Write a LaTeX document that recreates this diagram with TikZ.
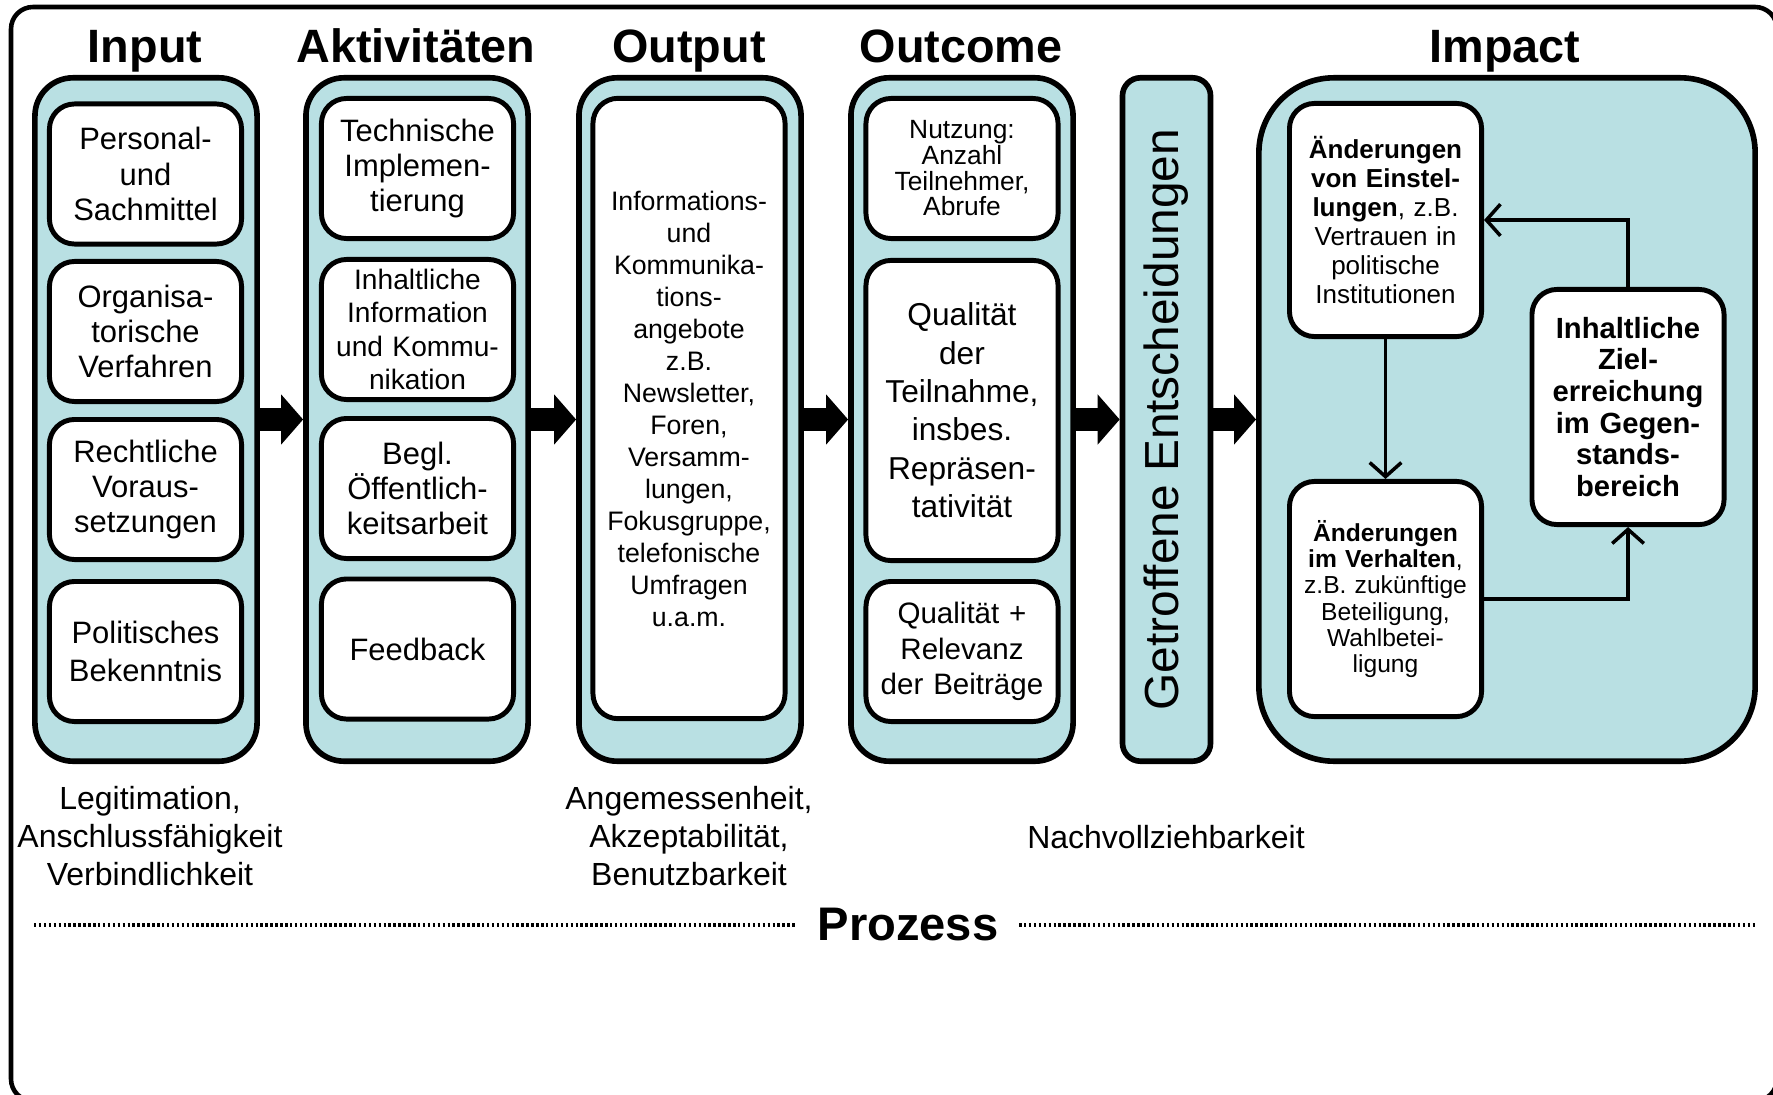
\documentclass[tikz,border=0pt]{standalone}
\usepackage{fontspec}
\setmainfont{Liberation Sans}
\usetikzlibrary{arrows.meta}
\definecolor{boxblue}{RGB}{185,224,227}

\begin{document}
\begin{tikzpicture}[x=0.01cm,y=-0.01cm,
        colbox/.style={draw,line width=1.6pt,fill=boxblue,rounded corners=0.38cm,
                minimum width=2.22cm,minimum height=6.83cm},
        inbox/.style={draw,line width=1.4pt,fill=white,rounded corners=0.25cm,
                minimum width=1.92cm,minimum height=1.40cm,text width=1.9cm,
                align=center,inner sep=0pt,font=\fontsize{8.8}{10}\selectfont},
        coltitle/.style={anchor=base,font=\fontsize{13.3}{15}\selectfont\bfseries},
        blockarrow/.style={line width=0.22cm,-{Triangle[length=0.22cm,width=0.49cm]}},
        flow/.style={line width=1pt,-{Straight Barb[length=4pt,width=9pt]}},
        note/.style={align=center,font=\fontsize{9.1}{10.8}\selectfont},
        dotline/.style={line width=0.9pt,dash pattern=on 0.7pt off 0.7pt}]

        \useasboundingbox (0,0) rectangle (1773,1094);

        % draw the frame
        \draw[line width=1.3pt,rounded corners=0.22cm] (11,7) rectangle (1777,1101);

        % draw the columns and their titles
        \foreach \n/\x in {input/146,akt/417,output/690,outcome/962}
                \node[colbox] (\n) at (\x,419.5) {};
        \node[colbox,minimum width=0.88cm,rounded corners=0.18cm] (entsch) at (1166.5,419.5) {};
        \node[colbox,minimum width=4.96cm,rounded corners=0.75cm] (impact) at (1507,419.5) {};

        \foreach \n/\x/\t in {inputtitle/145/Input,akttitle/416/Aktivitäten,
                outputtitle/689/Output,outcometitle/961/Outcome,impacttitle/1505/Impact}
                \node[coltitle] (\n) at (\x,63) {\t};

        % the input boxes
        \node[inbox] (personal) at (145.5,174) {Personal-\\und\\Sachmittel};
        \node[inbox] (orga) at (145.5,331.5) {Organisa-\\torische\\Verfahren};
        \node[inbox] (recht) at (145.5,489.5) {Rechtliche\\Voraus-\\setzungen};
        \node[inbox,font=\fontsize{8.8}{10.8}\selectfont] (bekennt) at (145.5,651.5) {Politisches\\Bekenntnis};

        % the activities
        \node[inbox] (technik) at (417.5,168.5) {Technische\\Implemen-\\tierung};
        \node[inbox,font=\fontsize{8}{9.5}\selectfont] (inhalt) at (417.5,329.5)
                {Inhaltliche\\Information\\und Kommu-\\nikation};
        \node[inbox] (begl) at (417.5,488.5) {Begl.\\Öffentlich-\\keitsarbeit};
        \node[inbox] (feedback) at (417.5,649) {Feedback};

        % the output
        \node[inbox,minimum height=6.20cm,font=\fontsize{7.6}{9.1}\selectfont] (angebote) at (689,408.5)
                {Informations-\\und\\Kommunika-\\tions-\\angebote\\z.B.\\Newsletter,\\Foren,\\Versamm-\\lungen,\\Fokusgruppe,\\telefonische\\Umfragen\\u.a.m.};

        % the outcome
        \node[inbox,font=\fontsize{7.5}{7.3}\selectfont] (nutzung) at (962,168.5)
                {Nutzung:\\Anzahl\\Teilnehmer,\\Abrufe};
        \node[inbox,minimum height=3.00cm,font=\fontsize{9}{10.9}\selectfont] (qualitaet) at (962,410.5)
                {Qualität\\der\\Teilnahme,\\insbes.\\Repräsen-\\tativität};
        \node[inbox,font=\fontsize{8.4}{10}\selectfont] (relevanz) at (962,651.5)
                {Qualität +\\Relevanz\\der Beiträge};

        % the decisions
        \node[rotate=90,font=\fontsize{13.6}{15}\selectfont] (entschtext) at (entsch.center)
                {Getroffene Entscheidungen};

        % the impact
        \node[inbox,minimum height=2.33cm,font=\fontsize{7.4}{8.2}\selectfont] (einstellung) at (1385.5,220)
                {\textbf{Änderungen}\\\textbf{von Einstel-}\\\textbf{lungen}, z.B.\\Vertrauen in\\politische\\Institutionen};
        \node[inbox,minimum height=2.35cm,font=\fontsize{7}{7.5}\selectfont] (verhalten) at (1385.5,599)
                {\textbf{Änderungen}\\\textbf{im Verhalten},\\z.B. zukünftige\\Beteiligung,\\Wahlbetei-\\ligung};
        \node[inbox,minimum height=2.35cm,font=\fontsize{8.3}{9}\selectfont\bfseries] (ziel) at (1628,407)
                {Inhaltliche\\Ziel-\\erreichung\\im Gegen-\\stands-\\bereich};

        \draw[flow] (einstellung) -- (verhalten);
        \draw[flow] (ziel.north) |- (einstellung.east);
        \draw[flow] (verhalten.east) -| (ziel.south);

        % arrows between the columns
        \foreach \a/\b in {input/akt,akt/output,output/outcome,outcome/entsch,entsch/impact}
                \draw[blockarrow] (\a.east) -- (\b.west);

        % the criteria below
        \node[note] (legit) at (150,836) {Legitimation,\\Anschlussfähigkeit\\Verbindlichkeit};
        \node[note] (angemessen) at (689,836) {Angemessenheit,\\Akzeptabilität,\\Benutzbarkeit};
        \node[note] (nachvollz) at (1166,837) {Nachvollziehbarkeit};

        % the process line
        \node[inner sep=0.2cm,font=\fontsize{13.4}{15}\selectfont\bfseries] (prozess) at (908,925) {Prozess};
        \coordinate (dotl) at (34,925);
        \coordinate (dotr) at (1756,925);
        \draw[dotline] (dotl) -- (prozess.west);
        \draw[dotline] (prozess.east) -- (dotr);
\end{tikzpicture}
\end{document}
